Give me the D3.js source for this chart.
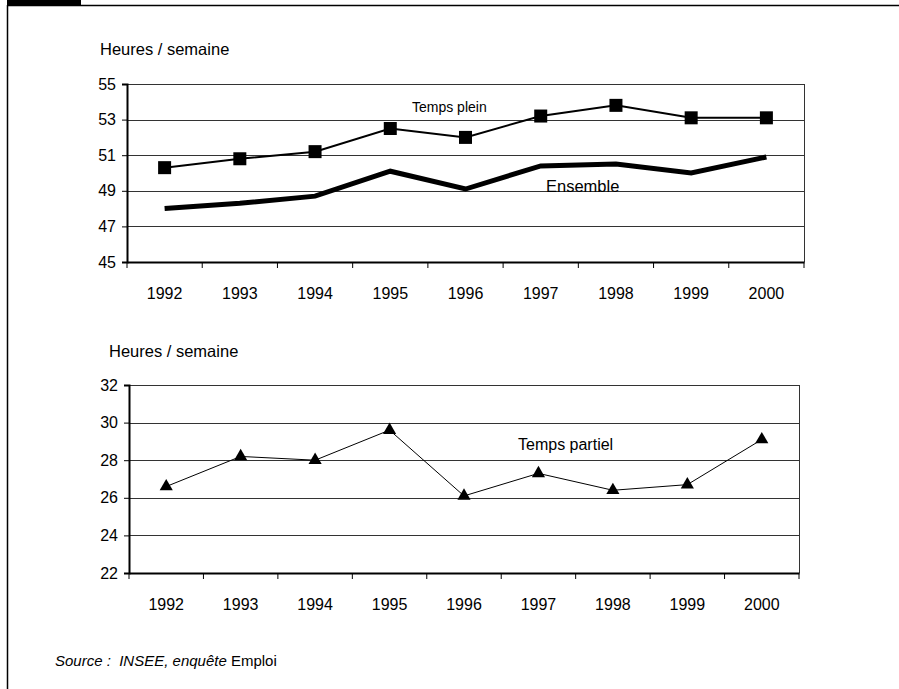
<!DOCTYPE html>
<html><head><meta charset="utf-8">
<script src="https://cdn.jsdelivr.net/npm/d3@7"></script>
<style>
body{margin:0;background:#fff;}
svg{display:block;font-family:"Liberation Sans",Arial,sans-serif;}
</style></head>
<body><svg id="c" width="899" height="689"></svg>
<script>
const years = ["1992","1993","1994","1995","1996","1997","1998","1999","2000"];
const tempsPlein = [50.3, 50.8, 51.2, 52.5, 52.0, 53.2, 53.8, 53.1, 53.1];
const ensemble = [48.0, 48.3, 48.7, 50.1, 49.1, 50.4, 50.5, 50.0, 50.9];
const tempsPartiel = [26.6, 28.2, 28.0, 29.6, 26.1, 27.3, 26.4, 26.7, 29.1];
const topTicks = [45, 47, 49, 51, 53, 55];
const bottomTicks = [22, 24, 26, 28, 30, 32];
const yLabel = "Heures / semaine";

const svg = d3.select("#c");

// outer frame
svg.append("rect").attr("x",7).attr("y",0).attr("width",74).attr("height",6).attr("fill","#000");
svg.append("line").attr("x1",7).attr("x2",899).attr("y1",5.5).attr("y2",5.5).attr("stroke","#000").attr("stroke-width",1.5);
svg.append("line").attr("x1",7.5).attr("x2",7.5).attr("y1",5).attr("y2",689).attr("stroke","#000").attr("stroke-width",1.5);

function panel(cfg){
  const x = d3.scaleBand().domain(years).range([cfg.x0, cfg.x1]);
  const y = d3.scaleLinear().domain([cfg.ticks[0], cfg.ticks[cfg.ticks.length-1]]).range([cfg.y1, cfg.y0]);
  const g = svg.append("g");
  // gridlines
  g.append("g").selectAll("line").data(cfg.ticks.slice(1)).join("line")
    .attr("x1",cfg.x0).attr("x2",cfg.x1)
    .attr("y1",d=>Math.round(y(d))+0.5).attr("y2",d=>Math.round(y(d))+0.5)
    .attr("stroke","#333").attr("stroke-width",1);
  // right border
  g.append("line").attr("x1",cfg.x1+0.5).attr("x2",cfg.x1+0.5).attr("y1",cfg.y0).attr("y2",cfg.y1)
    .attr("stroke","#333").attr("stroke-width",1);
  // y axis
  const ya = g.append("g").attr("transform",`translate(${cfg.x0},0)`)
    .call(d3.axisLeft(y).tickValues(cfg.ticks).tickSize(5).tickPadding(6).tickFormat(d3.format("d")));
  ya.select(".domain").attr("stroke","#000").attr("stroke-width",2);
  ya.selectAll(".tick line").attr("stroke","#000").attr("stroke-width",1);
  ya.selectAll("text").attr("font-size",16).attr("font-family","Liberation Sans, Arial, sans-serif").attr("fill","#000");
  // x axis
  const xa = g.append("g").attr("transform",`translate(0,${cfg.y1})`)
    .call(d3.axisBottom(x).tickSize(0).tickPadding(26));
  xa.select(".domain").attr("stroke","#000").attr("stroke-width",2);
  xa.selectAll("text").attr("font-size",16).attr("font-family","Liberation Sans, Arial, sans-serif").attr("fill","#000");
  // x tick marks at band boundaries
  const bounds = years.map(d=>x(d)).concat([cfg.x1]);
  g.append("g").selectAll("line").data(bounds).join("line")
    .attr("x1",d=>d).attr("x2",d=>d).attr("y1",cfg.y1).attr("y2",cfg.y1+6)
    .attr("stroke","#000").attr("stroke-width",1);
  // title
  g.append("text").attr("x",cfg.titleX).attr("y",cfg.titleY).text(yLabel)
    .attr("font-size",16.5).attr("fill","#000");
  return {x,y,g};
}

// top panel
const p1 = panel({x0:127, x1:804, y0:84, y1:262, ticks:topTicks, titleX:100, titleY:55});
const cx1 = d => p1.x(d) + p1.x.bandwidth()/2;
const line1 = d3.line().x((d,i)=>cx1(years[i])).y(d=>p1.y(d));
p1.g.append("path").datum(ensemble).attr("d",line1).attr("fill","none").attr("stroke","#000").attr("stroke-width",5).attr("stroke-linejoin","miter");
p1.g.append("path").datum(tempsPlein).attr("d",line1).attr("fill","none").attr("stroke","#000").attr("stroke-width",2);
p1.g.append("g").selectAll("rect").data(tempsPlein).join("rect")
  .attr("x",(d,i)=>cx1(years[i])-6.5).attr("y",d=>p1.y(d)-6.5).attr("width",13).attr("height",13).attr("fill","#000");
p1.g.append("text").attr("x",412).attr("y",112).text("Temps plein").attr("font-size",14).attr("fill","#000");
p1.g.append("text").attr("x",546).attr("y",192).text("Ensemble").attr("font-size",16.5).attr("fill","#000");

// bottom panel
const p2 = panel({x0:129, x1:799, y0:385, y1:573, ticks:bottomTicks, titleX:109, titleY:357});
const cx2 = d => p2.x(d) + p2.x.bandwidth()/2;
const line2 = d3.line().x((d,i)=>cx2(years[i])).y(d=>p2.y(d));
p2.g.append("path").datum(tempsPartiel).attr("d",line2).attr("fill","none").attr("stroke","#000").attr("stroke-width",1);
const tri = d3.symbol().type(d3.symbolTriangle).size(75);
p2.g.append("g").selectAll("path").data(tempsPartiel).join("path")
  .attr("d",tri).attr("transform",(d,i)=>`translate(${cx2(years[i])},${p2.y(d)})`).attr("fill","#000");
p2.g.append("text").attr("x",518).attr("y",450).text("Temps partiel").attr("font-size",16).attr("fill","#000");

// source
const src = svg.append("text").attr("x",55).attr("y",666).attr("font-size",15).attr("fill","#000").attr("xml:space","preserve");
src.append("tspan").attr("font-style","italic").text("Source :  INSEE, enquête ");
src.append("tspan").text("Emploi");
</script></body></html>
